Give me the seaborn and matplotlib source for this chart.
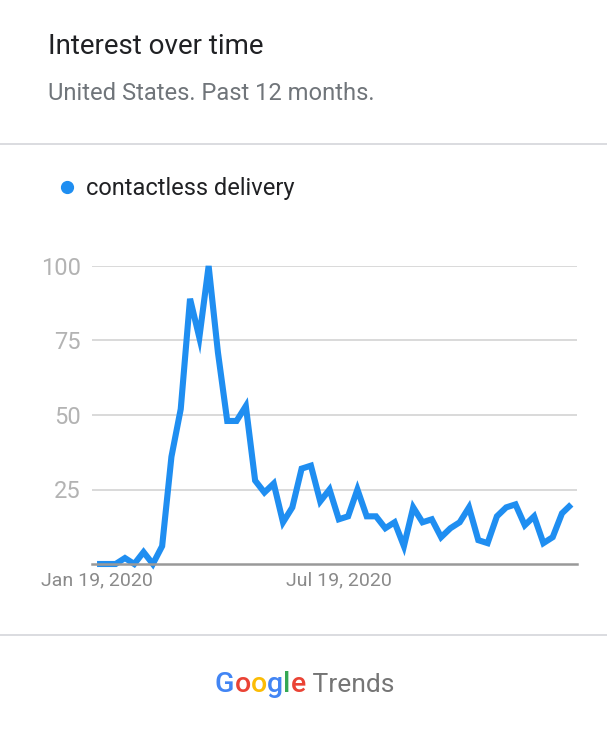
import numpy as np
import pandas as pd
import matplotlib
matplotlib.use("Agg")
import matplotlib.pyplot as plt
import matplotlib.dates as mdates
from matplotlib.lines import Line2D
import seaborn as sns

# ---- data ----
start_date = "2020-01-19"
n_weeks = 52
values = [0, 0, 0, 2, 0, 4, 0, 6, 36, 52, 89, 76, 100, 71, 48, 48, 53, 28, 24, 27,
          14, 19, 32, 33, 21, 25, 15, 16, 25, 16, 16, 12, 14, 6, 19, 14, 15, 9, 12, 14,
          19, 8, 7, 16, 19, 20, 13, 16, 7, 9, 17, 20]
term = "contactless delivery"
y_ticks = [25, 50, 75, 100]
x_tick_dates = ["2020-01-19", "2020-07-19"]
x_tick_labels = ["Jan 19, 2020", "Jul 19, 2020"]
title = "Interest over time"
subtitle = "United States. Past 12 months."
logo_letters = ["G", "o", "o", "g", "l", "e"]
logo_colors = ["#4285F4", "#EA4335", "#FBBC05", "#4285F4", "#34A853", "#EA4335"]

dates = pd.date_range(start_date, periods=n_weeks, freq="7D")
df = pd.DataFrame({"date": dates, "value": values, "term": term})

sns.set_style("white")
plt.rcParams["font.family"] = ["Roboto", "DejaVu Sans"]

W, H = 607, 730
fig = plt.figure(figsize=(W / 100, H / 100), dpi=100)

def fx(px):
    return px / W

def fy(py):
    return 1 - py / H

ax = fig.add_axes([fx(92), fy(564), fx(577) - fx(92), fy(266) - fy(564)])

line_color = "#1f8ef1"
sns.lineplot(data=df, x="date", y="value", ax=ax, color=line_color,
             linewidth=4.4, legend=False, clip_on=False)
for l in ax.get_lines():
    l.set_solid_joinstyle("miter")
    l.set_solid_capstyle("butt")

ax.set_ylim(0, 100)
ax.set_xlim(dates[0] - pd.Timedelta(days=3.8), dates[-1] + pd.Timedelta(days=4.3))
ax.set_yticks(y_ticks)
ax.set_yticklabels([str(t) for t in y_ticks])
ax.set_xticks(pd.to_datetime(x_tick_dates))
ax.set_xticklabels(x_tick_labels)
ax.set_xlabel("")
ax.set_ylabel("")

ax.grid(axis="y", color="#d9d9d9", linewidth=1.4)
ax.grid(axis="x", visible=False)
ax.set_axisbelow(True)
for s in ["top", "right", "left"]:
    ax.spines[s].set_visible(False)
ax.spines["bottom"].set_color("#999999")
ax.spines["bottom"].set_linewidth(1.8)
ax.tick_params(axis="y", length=0, pad=8, labelsize=17, labelcolor="#b3b3b3")
ax.tick_params(axis="x", length=0, pad=5.5, labelsize=14, labelcolor="#8a8a8a")

# ---- header ----
fig.text(fx(48), fy(46), title, fontsize=20, color="#202124", va="center", ha="left")
fig.text(fx(48), fy(94), subtitle, fontsize=17.1, color="#70757a", va="center", ha="left")

for py in [144, 635]:
    fig.add_artist(Line2D([0, 1], [fy(py), fy(py)], transform=fig.transFigure,
                          color="#dadce0", linewidth=1.4))

# ---- legend ----
fig.add_artist(Line2D([fx(67)], [fy(187)], transform=fig.transFigure, marker="o",
                      markersize=8.5, color=line_color, linestyle="none"))
fig.text(fx(86), fy(188), term, fontsize=17, color="#202124", va="center", ha="left")

# ---- footer logo ----
prev = fig.text(fx(215), fy(684), logo_letters[0], fontsize=20.5, color=logo_colors[0],
                va="center", ha="left", fontweight="medium")
for ch, c in zip(logo_letters[1:], logo_colors[1:]):
    prev = ax.annotate(ch, xy=(1, 0), xycoords=prev, xytext=(0, 0), textcoords="offset points",
                       fontsize=20.5, color=c, va="bottom", ha="left", fontweight="medium",
                       annotation_clip=False)
ax.annotate(" Trends", xy=(1, 0), xycoords=prev, xytext=(0, 0), textcoords="offset points",
            fontsize=19, color="#757575", va="bottom", ha="left", annotation_clip=False)

fig.savefig("out.png", dpi=100)
